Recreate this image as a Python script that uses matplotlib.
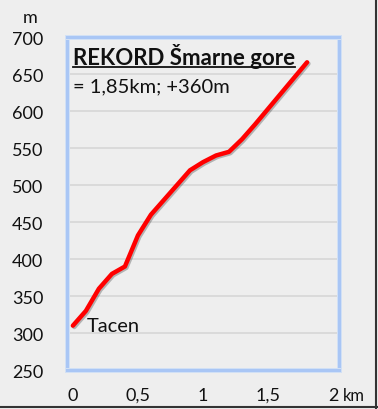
import matplotlib.pyplot as plt
import matplotlib.patheffects as pe
from matplotlib.lines import Line2D

plt.rcParams['font.family'] = ['Lato', 'DejaVu Sans']

# distance (km) and altitude (m)
dist_km = [0, 0.1, 0.2, 0.3, 0.4, 0.5, 0.6, 0.7, 0.8, 0.9, 1.0,
           1.1, 1.2, 1.3, 1.4, 1.5, 1.6, 1.7, 1.8]
alt_m = [310, 330, 360, 380, 390, 432, 460, 480, 500, 520, 531,
         540, 545, 562, 582, 603, 624, 645, 666]

y_ticks = [250, 300, 350, 400, 450, 500, 550, 600, 650, 700]
x_ticks = [0, 0.5, 1, 1.5, 2]
x_labels = ['0', '0,5', '1', '1,5', '2']

title = 'REKORD Šmarne gore'
subtitle = '= 1,85km; +360m'

bg = '#eeeeee'
fig = plt.figure(figsize=(3.78, 4.10), dpi=100, facecolor=bg)
ax = fig.add_axes([0.177, 0.095, 0.72, 0.812], facecolor=bg)

ax.set_xlim(-0.046, 2.046)
ax.set_ylim(250, 700)
ax.set_yticks(y_ticks)
ax.set_xticks(x_ticks)
ax.set_xticklabels(x_labels)
ax.tick_params(length=0, labelsize=13, colors='#111111')
ax.tick_params(axis='y', pad=17)
ax.tick_params(axis='x', pad=12)
ax.grid(axis='y', color='#d6d6d6', linewidth=1.2)
ax.set_axisbelow(True)
for s in ax.spines.values():
    s.set_color('#a9c6f5')
    s.set_linewidth(2.2)
    s.set_path_effects([pe.Stroke(linewidth=3.6, foreground='#d3e1f6'), pe.Normal()])

ax.plot(dist_km, alt_m, color='#ff0000', linewidth=3.2, solid_capstyle='round',
        path_effects=[pe.SimpleLineShadow(offset=(1, -1), alpha=0.25), pe.Normal()])

t = ax.text(0.0, 664, title, fontsize=16, fontweight='bold', color='#111111',
            va='baseline', ha='left')
ax.text(0.0, 627, subtitle, fontsize=14.5, color='#111111', va='baseline', ha='left')
ax.text(0.11, 303, 'Tacen', fontsize=14.5, color='#111111', va='baseline', ha='left')

fig.text(0.061, 0.944, 'm', fontsize=13, color='#111111', ha='left', va='baseline')
fig.text(0.906, 0.022, 'km', fontsize=12, color='#111111', ha='left', va='baseline')

# underline the title
fig.canvas.draw()
bb = t.get_window_extent().transformed(fig.transFigure.inverted())
uy = bb.y0 + 0.001
fig.add_artist(Line2D([bb.x0, bb.x1], [uy, uy], color='#111111', linewidth=1.3,
                      transform=fig.transFigure))

# dark edge on the right and bottom
fig.add_artist(Line2D([0.995, 0.995], [0, 1], color='#333333', linewidth=1.5,
                      transform=fig.transFigure))
fig.add_artist(Line2D([0, 1], [0.004, 0.004], color='#333333', linewidth=1.5,
                      transform=fig.transFigure))

fig.savefig('out.png', dpi=100, facecolor=bg)
